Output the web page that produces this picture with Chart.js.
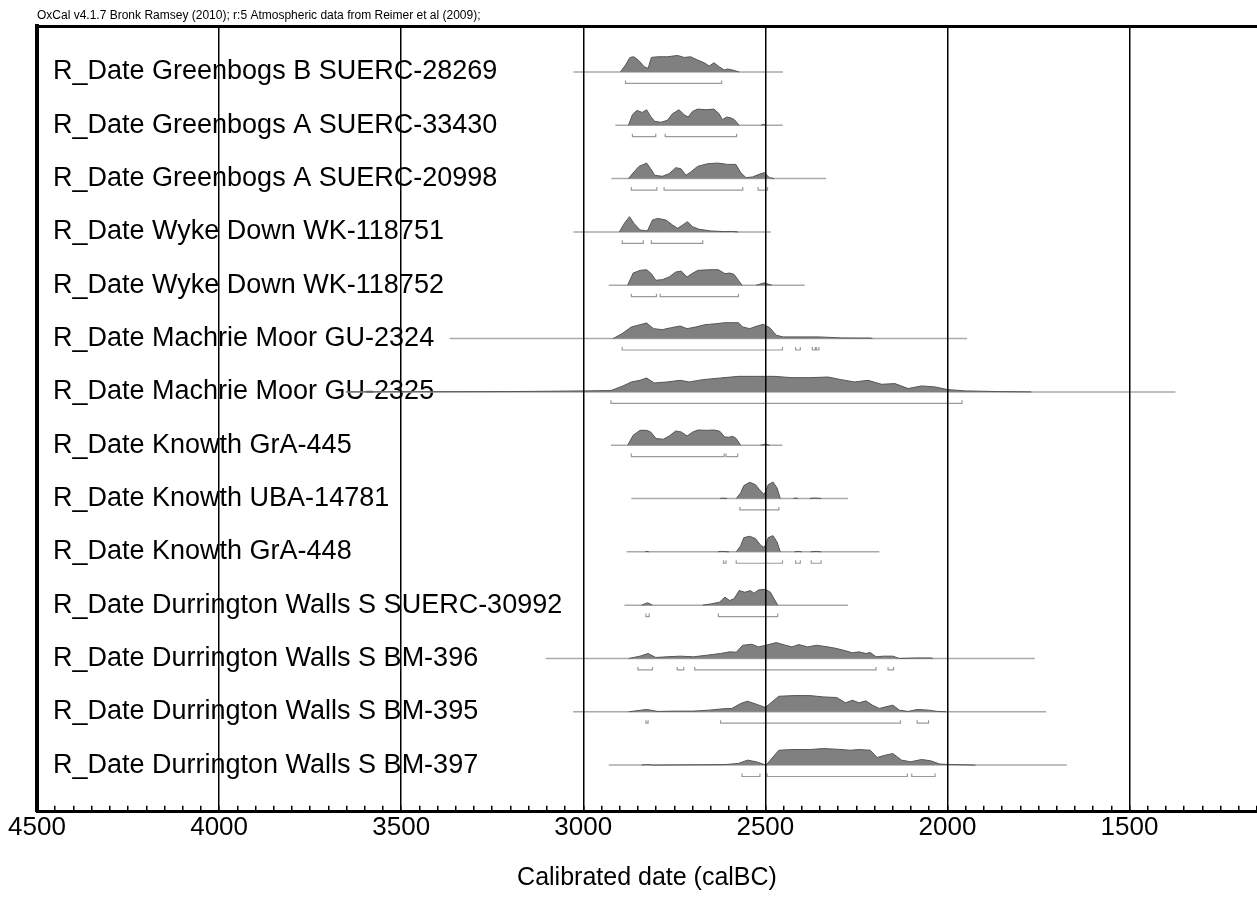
<!DOCTYPE html>
<html lang="en">
<head>
  <meta charset="UTF-8" />
  <title>OxCal multiplot - Calibrated dates</title>
  <style>
    html, body { margin: 0; padding: 0; background: #fff; }
  </style>
</head>
<body>
  <canvas id="chart" width="1257" height="900"></canvas>

  <script src="https://cdn.jsdelivr.net/npm/chart.js"></script>
  <script>
    const titleText = "OxCal v4.1.7 Bronk Ramsey (2010); r:5 Atmospheric data from Reimer et al (2009);";
    const axisTitle = "Calibrated date (calBC)";

    const sampleNames = [
      "R_Date Greenbogs B SUERC-28269",
      "R_Date Greenbogs A SUERC-33430",
      "R_Date Greenbogs A SUERC-20998",
      "R_Date Wyke Down WK-118751",
      "R_Date Wyke Down WK-118752",
      "R_Date Machrie Moor GU-2324",
      "R_Date Machrie Moor GU-2325",
      "R_Date Knowth GrA-445",
      "R_Date Knowth UBA-14781",
      "R_Date Knowth GrA-448",
      "R_Date Durrington Walls S SUERC-30992",
      "R_Date Durrington Walls S BM-396",
      "R_Date Durrington Walls S BM-395",
      "R_Date Durrington Walls S BM-397"
    ];

    // full extent of each likelihood (calBC), the thin grey line
    const spans = [
      [3027, 2452], [2912, 2452], [2923, 2333], [3027, 2485], [2930, 2392],
      [3367, 1946], [3653, 1374], [2924, 2453], [2868, 2273], [2881, 2187],
      [2887, 2273], [3103, 1760], [3028, 1729], [2930, 1672]
    ];

    // calibrated distributions: [calBC, relative probability (%)]
    const pSUERC28269 = [[2898,0],[2884,42],[2872,88],[2861,92],[2847,68],[2833,32],[2822,22],[2813,88],[2796,92],[2769,92],[2741,100],[2723,88],[2705,92],[2686,72],[2668,56],[2654,36],[2641,56],[2627,32],[2613,12],[2604,18],[2590,12],[2572,0]];
    const pSUERC33430 = [[2876,0],[2865,64],[2853,90],[2838,78],[2826,94],[2815,54],[2804,24],[2787,18],[2769,30],[2755,70],[2737,94],[2723,64],[2712,50],[2700,84],[2686,98],[2663,94],[2641,98],[2627,70],[2618,34],[2606,50],[2594,44],[2585,34],[2572,0],[2512,0],[2505,6],[2499,0]];
    const pSUERC20998 = [[2876,0],[2861,40],[2847,74],[2826,94],[2815,60],[2804,20],[2783,14],[2764,30],[2746,66],[2732,60],[2718,20],[2705,40],[2686,74],[2659,90],[2631,94],[2604,86],[2581,86],[2567,34],[2553,6],[2535,10],[2517,26],[2503,36],[2489,6],[2476,0]];
    const pWK118751 = [[2901,0],[2886,56],[2873,92],[2861,52],[2844,12],[2824,6],[2810,72],[2796,82],[2773,72],[2755,42],[2741,22],[2727,42],[2714,62],[2700,32],[2682,16],[2650,6],[2613,2],[2590,3],[2575,0]];
    const pWK118752 = [[2878,0],[2863,74],[2844,90],[2826,94],[2813,70],[2801,30],[2783,34],[2764,50],[2746,80],[2731,86],[2715,50],[2699,74],[2685,90],[2654,94],[2629,94],[2611,70],[2598,74],[2586,66],[2574,30],[2564,0],[2525,0],[2504,14],[2482,0]];
    const pGU2324 = [[2918,0],[2893,30],[2868,70],[2844,84],[2826,94],[2807,60],[2783,54],[2758,66],[2734,76],[2715,60],[2691,70],[2666,84],[2635,90],[2611,96],[2574,96],[2562,70],[2543,60],[2525,74],[2506,86],[2488,66],[2470,20],[2451,10],[2402,10],[2353,10],[2291,4],[2243,3],[2212,3],[2206,0]];
    const pGU2325 = [[3650,0],[3400,1],[3200,2],[3090,4],[2998,6],[2924,8],[2893,34],[2868,60],[2844,70],[2826,84],[2805,54],[2770,60],[2734,70],[2709,60],[2672,74],[2623,84],[2574,94],[2525,94],[2476,94],[2427,86],[2378,86],[2328,90],[2292,74],[2255,60],[2218,70],[2181,46],[2144,50],[2108,20],[2071,36],[2034,30],[2000,14],[1951,6],[1862,2],[1770,0]];
    const pGrA445 = [[2878,0],[2863,60],[2844,90],[2826,90],[2815,80],[2800,40],[2780,36],[2764,56],[2746,86],[2731,80],[2715,56],[2699,80],[2685,92],[2660,90],[2640,92],[2625,84],[2612,50],[2600,48],[2590,54],[2580,40],[2568,0],[2513,0],[2500,6],[2488,0]];
    const pUBA14781 = [[2625,0],[2617,2],[2605,0],[2580,0],[2568,34],[2559,78],[2543,98],[2527,84],[2515,50],[2503,24],[2492,84],[2479,100],[2468,64],[2459,0],[2423,0],[2418,3],[2410,0],[2378,0],[2365,3],[2347,0]];
    const pGrA448 = [[2830,0],[2826,3],[2820,0],[2630,0],[2623,3],[2600,0],[2580,0],[2568,36],[2559,86],[2543,94],[2527,80],[2513,40],[2503,26],[2492,86],[2479,98],[2468,60],[2459,0],[2420,0],[2410,3],[2400,0],[2375,0],[2360,3],[2347,0]];
    const pSUERC30992 = [[2840,0],[2823,14],[2810,0],[2672,0],[2648,8],[2626,18],[2611,48],[2598,28],[2586,38],[2572,88],[2556,78],[2541,88],[2531,72],[2519,92],[2500,96],[2486,78],[2476,38],[2466,0]];
    const pBM396 = [[2875,0],[2844,14],[2822,30],[2801,6],[2770,10],[2734,14],[2697,10],[2660,20],[2623,30],[2598,40],[2580,38],[2562,80],[2537,86],[2519,70],[2498,80],[2470,96],[2445,80],[2427,70],[2408,84],[2384,70],[2359,80],[2328,70],[2304,60],[2279,46],[2261,34],[2243,40],[2224,30],[2212,36],[2196,10],[2175,14],[2150,14],[2132,0],[2083,3],[2046,3],[2040,0]];
    const pBM395 = [[2875,0],[2826,14],[2795,2],[2746,4],[2697,4],[2654,10],[2617,18],[2592,20],[2568,50],[2549,64],[2525,46],[2500,26],[2463,94],[2420,98],[2378,98],[2341,90],[2304,86],[2280,54],[2261,70],[2243,54],[2224,66],[2206,40],[2187,20],[2169,30],[2150,40],[2132,10],[2108,2],[2083,14],[2052,10],[2027,2],[2003,0]];
    const pBM397 = [[2840,0],[2826,3],[2810,0],[2672,2],[2611,3],[2574,10],[2549,30],[2525,20],[2498,0],[2463,90],[2427,94],[2378,94],[2341,100],[2304,96],[2267,90],[2243,94],[2212,90],[2193,46],[2171,60],[2150,70],[2126,30],[2101,20],[2071,34],[2046,26],[2021,6],[1997,4],[1923,0]];

    const distributions = [pSUERC28269, pSUERC33430, pSUERC20998, pWK118751, pWK118752,
      pGU2324, pGU2325, pGrA445, pUBA14781, pGrA448, pSUERC30992, pBM396, pBM395, pBM397];

    // 95.4% probability ranges (calBC)
    const ranges = [
      [[2884, 2620]],
      [[2865, 2801], [2775, 2579]],
      [[2868, 2798], [2778, 2562], [2520, 2494]],
      [[2893, 2835], [2813, 2672]],
      [[2868, 2799], [2789, 2574]],
      [[2893, 2453], [2417, 2404], [2371, 2363], [2360, 2353]],
      [[2924, 1960]],
      [[2868, 2613], [2608, 2576]],
      [[2570, 2463]],
      [[2615, 2608], [2580, 2453], [2417, 2404], [2374, 2347]],
      [[2828, 2819], [2629, 2466]],
      [[2850, 2810], [2742, 2724], [2694, 2196], [2163, 2148]],
      [[2828, 2822], [2623, 2129], [2083, 2052]],
      [[2564, 2515], [2495, 2110], [2098, 2034]]
    ];

    const xTicksMajor = [4500, 4000, 3500, 3000, 2500, 2000, 1500];

    // row geometry in "row" units (1 = distance between rows)
    const PEAK = 0.31;
    const DROP = 0.214;
    const HOOK = 0.056;

    Chart.defaults.font.family = "'Liberation Sans', Arial, Helvetica, sans-serif";
    Chart.defaults.color = '#000';

    const datasets = [];
    sampleNames.forEach((name, i) => {
      const base = -i;
      datasets.push({
        label: name,
        data: distributions[i].map(([x, p]) => ({ x, y: base + p / 100 * PEAK })),
        fill: { value: base },
        backgroundColor: '#808080',
        borderColor: '#555555',
        borderWidth: 1,
        pointRadius: 0,
        order: 0,
        segment: {
          borderColor: c => (c.p0.parsed.y === base && c.p1.parsed.y === base) ? 'rgba(0,0,0,0)' : undefined
        }
      });
      datasets.push({
        label: name + ' span',
        data: spans[i].map(x => ({ x, y: base })),
        borderColor: '#aaaaaa',
        borderWidth: 1.5,
        pointRadius: 0,
        fill: false,
        order: 2
      });
      const br = [];
      ranges[i].forEach(([a, b]) => {
        br.push({ x: a, y: base - DROP + HOOK }, { x: a, y: base - DROP },
                { x: b, y: base - DROP }, { x: b, y: base - DROP + HOOK }, { x: b, y: null });
      });
      datasets.push({
        label: name + ' 95.4%',
        data: br,
        borderColor: '#9a9a9a',
        borderWidth: 1.2,
        pointRadius: 0,
        fill: false,
        spanGaps: false,
        order: 1
      });
    });

    new Chart(document.getElementById('chart'), {
      type: 'line',
      data: { datasets },
      options: {
        responsive: false,
        animation: false,
        events: [],
        layout: { padding: { left: 37, right: 0, top: 0, bottom: 0 } },
        plugins: {
          legend: { display: false },
          tooltip: { enabled: false },
          title: {
            display: true,
            text: titleText,
            align: 'start',
            color: '#000',
            font: { size: 12, weight: 'normal' },
            padding: { top: 8, bottom: 4 }
          }
        },
        scales: {
          x: {
            type: 'linear',
            position: 'bottom',
            reverse: true,
            min: 1150,
            max: 4500,
            afterFit: s => { s.paddingLeft = 0; s.paddingRight = 0; },
            ticks: {
              stepSize: 50,
              autoSkip: false,
              maxRotation: 0,
              includeBounds: false,
              padding: 6,
              color: '#000',
              font: { size: 26 },
              callback: v => xTicksMajor.includes(v) ? String(v) : ''
            },
            grid: {
              z: 1,
              lineWidth: 1.5,
              tickLength: -6,
              tickWidth: 1.5,
              tickColor: '#000',
              color: c => (c.tick && xTicksMajor.includes(c.tick.value)) ? '#000' : 'rgba(0,0,0,0)'
            },
            border: { color: '#000', width: 3, z: 2 },
            title: {
              display: true,
              text: axisTitle,
              color: '#000',
              font: { size: 25 },
              padding: { top: 14, bottom: 7 }
            }
          },
          xTop: {
            type: 'linear',
            position: 'top',
            reverse: true,
            min: 1150,
            max: 4500,
            ticks: { display: false },
            grid: { display: false, drawTicks: false },
            border: { color: '#000', width: 3 }
          },
          y: {
            type: 'linear',
            min: -13.876,
            max: 0.855,
            afterBuildTicks: s => { s.ticks = sampleNames.map((_, i) => ({ value: -i })); },
            afterFit: s => { s.width = 0; s.paddingTop = 0; s.paddingBottom = 0; },
            ticks: {
              mirror: true,
              padding: 16,
              autoSkip: false,
              color: '#000',
              font: { size: 27 },
              callback: v => sampleNames[Math.round(-v)]
            },
            grid: { display: false, drawTicks: false },
            border: { color: '#000', width: 4 }
          }
        }
      }
    });
  </script>
</body>
</html>
